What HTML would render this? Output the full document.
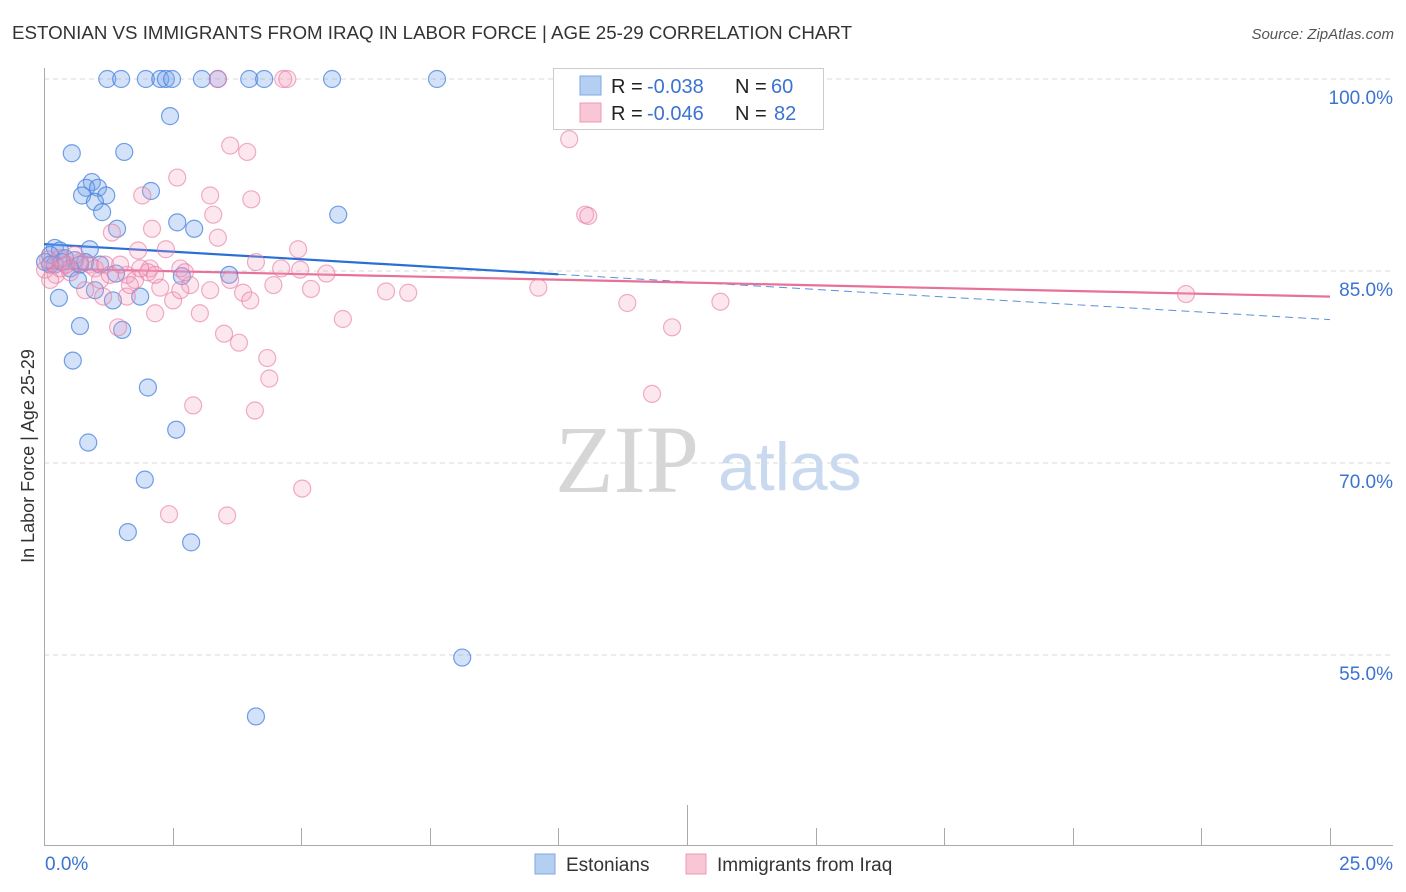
<!DOCTYPE html>
<html><head><meta charset="utf-8"><style>
body{margin:0;background:#fff;font-family:"Liberation Sans",sans-serif;}
#wrap{position:relative;width:1406px;height:892px;overflow:hidden;}
</style></head><body>
<div id="wrap">
<svg id="chart" width="1406" height="892" xmlns="http://www.w3.org/2000/svg">
<text x="12" y="39" font-size="18" fill="#333" textLength="840" lengthAdjust="spacingAndGlyphs">ESTONIAN VS IMMIGRANTS FROM IRAQ IN LABOR FORCE | AGE 25-29 CORRELATION CHART</text>
<text x="1394" y="39" font-size="15" fill="#555" font-style="italic" text-anchor="end">Source: ZipAtlas.com</text>
<text transform="translate(34,456) rotate(-90)" font-size="18" fill="#333" text-anchor="middle">In Labor Force | Age 25-29</text>
<text x="555" y="492" font-size="96" fill="#d6d6d6" font-family="Liberation Serif,serif">ZIP</text>
<text x="718" y="490" font-size="68" fill="#c9d9f0">atlas</text>
<g id="grid"></g><g id="axes"></g><g id="lines"></g><g id="pts"></g>
<g>
<rect x="553.5" y="68.5" width="270" height="61" fill="#fff" stroke="#ccc"/>
<rect x="580" y="76" width="21" height="19" fill="#b5cff3" stroke="#7ea7e6"/>
<rect x="580" y="103" width="21" height="19" fill="#f9c6d5" stroke="#ec9ab4"/>
<text x="611" y="93" font-size="20" fill="#222">R =</text>
<text x="647" y="93" font-size="20" fill="#3b73d1">-0.038</text>
<text x="735" y="93" font-size="20" fill="#222">N =</text>
<text x="771" y="93" font-size="20" fill="#3b73d1">60</text>
<text x="611" y="120" font-size="20" fill="#222">R =</text>
<text x="647" y="120" font-size="20" fill="#3b73d1">-0.046</text>
<text x="735" y="120" font-size="20" fill="#222">N =</text>
<text x="774" y="120" font-size="20" fill="#3b73d1">82</text>
</g>
<g>
<rect x="535" y="854" width="20" height="20" fill="#b5cff3" stroke="#7ea7e6"/>
<text x="566" y="871" font-size="19" fill="#333">Estonians</text>
<rect x="686" y="854" width="20" height="20" fill="#f9c6d5" stroke="#ec9ab4"/>
<text x="717" y="871" font-size="19" fill="#333">Immigrants from Iraq</text>
</g>
</svg>
</div>
<script>
const yTicks=[100,85,70,55];
const yTickLabels=["100.0%","85.0%","70.0%","55.0%"];
const xTickLabels=["0.0%","25.0%"];
const estX=[1.23,1.50,1.98,2.26,2.37,2.49,3.07,3.38,3.99,4.28,5.60,7.64,2.45,0.54,1.56,0.93,0.82,1.05,0.74,1.21,2.08,0.99,1.13,5.72,2.59,2.92,1.42,0.21,0.31,0.89,0.12,0.41,0.60,0.80,0.02,0.21,0.51,2.68,3.60,1.40,0.66,0.99,0.29,1.34,1.87,1.52,0.70,0.56,2.02,2.57,0.86,1.96,1.63,2.86,8.13,4.12,0.12,0.35,0.70,1.09];
const estY=[100,100,100,100,100,100,100,100,100,100,100,100,97.1,94.2,94.3,91.95,91.5,91.5,90.9,90.9,91.25,90.4,89.6,89.4,88.8,88.3,88.3,86.8,86.6,86.7,86.25,86.0,85.85,85.7,85.7,85.5,85.2,84.6,84.7,84.8,84.3,83.5,82.9,82.7,83.0,80.4,80.7,78.0,75.9,72.6,71.6,68.7,64.6,63.8,54.8,50.2,85.5,85.7,85.5,85.5];
const iraqX=[3.38,4.65,4.73,10.21,3.62,3.95,2.59,3.23,1.91,4.03,3.29,10.52,10.58,2.10,1.32,3.38,4.94,1.83,2.37,4.12,4.61,5.49,2.65,2.06,1.61,1.77,0.23,0.89,0.99,1.19,2.26,2.84,4.46,5.19,6.65,7.08,9.61,3.87,2.51,1.15,1.61,3.03,2.16,11.34,13.15,22.2,5.81,1.44,3.50,3.79,12.21,4.34,4.38,11.82,2.90,4.10,5.02,2.43,3.56,0.02,0.12,0.31,0.51,0.70,1.09,1.67,2.02,2.74,0.31,0.08,0.60,1.87,3.23,3.62,4.98,2.65,1.28,4.01,0.80,2.16,0.43,1.48];
const iraqY=[100,100,100,95.3,94.8,94.3,92.3,90.9,90.9,90.6,89.4,89.4,89.3,88.3,88.0,87.6,86.7,86.6,86.7,85.7,85.2,84.8,85.2,85.2,84.7,84.3,84.7,85.5,85.2,85.5,83.7,83.9,83.9,83.6,83.4,83.3,83.7,83.3,82.7,83.0,83.0,81.7,81.7,82.5,82.6,83.2,81.25,80.6,80.1,79.4,80.6,78.2,76.6,75.4,74.5,74.1,68.0,66.0,65.9,85.1,84.3,85.2,84.9,85.7,84.3,83.9,84.9,84.9,86.0,85.9,86.25,85.2,83.5,84.3,85.1,83.5,84.7,82.7,83.5,84.7,85.5,85.5];
const estTrend=[87.1,81.2];
const iraqTrend=[85.2,83.0];
const estSolidEnd=[10];

const NS="http://www.w3.org/2000/svg";
const X0=44,X1=1330,Y100=79,PX_PER=12.8;
function sx(v){return X0+(X1-X0)*v/25;}
function sy(v){return Y100+(100-v)*PX_PER;}
function mk(tag,attrs,parent){const e=document.createElementNS(NS,tag);for(const k in attrs)e.setAttribute(k,attrs[k]);document.getElementById(parent).appendChild(e);return e;}

yTicks.forEach((t,i)=>{
  const l=mk('line',{x1:44,x2:1393,y1:sy(t),y2:sy(t),stroke:'#d8d8d8','stroke-dasharray':'5,4'},'grid');
  
  
  const tx=mk('text',{x:1393,y:sy(t)+25,'font-size':19,fill:'#3b73d1','text-anchor':'end'},'grid');
  tx.textContent=yTickLabels[i];
  
  
});
const ya=mk('line',{x1:44.5,x2:44.5,y1:68,y2:845,stroke:'#aaa'},'axes');


const xa=mk('line',{x1:44,x2:1393,y1:845.5,y2:845.5,stroke:'#aaa'},'axes');


for(let i=1;i<=10;i++){
  const x=Math.round(sx(i*2.5))+0.5;
  const t=mk('line',{x1:x,x2:x,y1:(i==5?805:828),y2:845,stroke:'#aaa'},'axes');
  
  
}
[[0,'start',45],[1,'end',1393]].forEach(([i,a,x])=>{
  const t=mk('text',{x:x,y:870,'font-size':19,fill:'#3b73d1','text-anchor':a},'axes');
  t.textContent=xTickLabels[i];
  
  
});

function pts(xs,ys,fill,stroke,name){
  xs.forEach((v,i)=>{
    const c=mk('circle',{cx:sx(v),cy:sy(ys[i]),r:8.5,fill:fill,stroke:stroke,'stroke-width':1.2},'pts');
    
    
  });
}
pts(estX,estY,'rgba(120,165,235,0.32)','rgba(70,130,220,0.75)','estonian-point');
pts(iraqX,iraqY,'rgba(245,160,190,0.25)','rgba(232,120,160,0.6)','iraq-point');

function ty(tr,x){return tr[0]+(tr[1]-tr[0])*x/25;}
const bl=mk('line',{x1:sx(0),y1:sy(ty(estTrend,0)),x2:sx(estSolidEnd[0]),y2:sy(ty(estTrend,estSolidEnd[0])),stroke:'#2a6fd6','stroke-width':2.2},'lines');


const bd=mk('line',{x1:sx(estSolidEnd[0]),y1:sy(ty(estTrend,estSolidEnd[0])),x2:sx(25),y2:sy(ty(estTrend,25)),stroke:'#5b8fdf','stroke-width':1,'stroke-dasharray':'8,5'},'lines');


const pl=mk('line',{x1:sx(0),y1:sy(ty(iraqTrend,0)),x2:sx(25),y2:sy(ty(iraqTrend,25)),stroke:'#e8719a','stroke-width':2.2},'lines');


</script>
</body></html>
